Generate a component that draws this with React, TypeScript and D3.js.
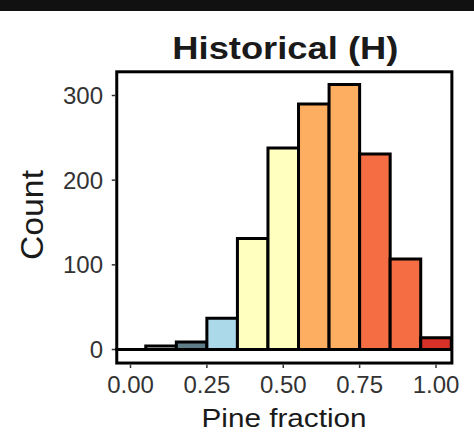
import * as d3 from "d3";

// histogram bins (centre of each 0.1-wide bin) and their counts
const binCenters = [0, 0.1, 0.2, 0.3, 0.4, 0.5, 0.6, 0.7, 0.8, 0.9, 1.0];
const binCounts = [0, 4, 9, 37, 131, 238, 290, 313, 231, 107, 14];
const binFills = [
  "#ffffff",
  "#ffffff",
  "#5f7d87",
  "#abd9e9",
  "#ffffbf",
  "#ffffbf",
  "#fdae61",
  "#fdae61",
  "#f46d43",
  "#f46d43",
  "#d73027",
];
const binWidth = 0.1;

const xTickValues = [0, 0.25, 0.5, 0.75, 1];
const yTickValues = [0, 100, 200, 300];
const xLimits = [-0.045, 1.052];
const yLimits = [-16, 328];

const titleText = "Historical (H)";
const xTitle = "Pine fraction";
const yTitle = "Count";

const App = () => {
  const width = 474,
    height = 434;
  const font = "'Liberation Sans', Arial, Helvetica, sans-serif";

  const x = d3.scaleLinear([0, 1], [130.5, 436]);
  const y = d3.scaleLinear([0, 300], [349.5, 95.5]);

  const left = x(xLimits[0]),
    right = x(xLimits[1]),
    top = y(yLimits[1]),
    bottom = y(yLimits[0]);

  // a path so that empty bins still show their outline on the baseline
  const barPath = (c: number, n: number) => {
    const p = d3.path();
    p.rect(
      x(c - binWidth / 2),
      y(n),
      x(c + binWidth / 2) - x(c - binWidth / 2),
      y(0) - y(n),
    );
    return p.toString();
  };

  return (
    <svg
      width={width}
      height={height}
      style={{ position: "absolute", left: 0, top: 0, background: "#fff" }}
      fontFamily={font}
    >
      <rect x={0} y={0} width={width} height={11} fill="#111" />

      <text
        x={(left + right) / 2 + 1}
        y={58.5}
        textAnchor="middle"
        fontSize={31}
        fontWeight="bold"
        fill="#1a1a1a"
        textLength={226}
        lengthAdjust="spacingAndGlyphs"
      >
        {titleText}
      </text>

      {/* bars */}
      <g stroke="#000" strokeWidth={3} strokeLinejoin="miter">
        {binCenters.map((c, i) => (
          <path key={i} d={barPath(c, binCounts[i])} fill={binFills[i]} />
        ))}
      </g>

      {/* panel border */}
      <rect
        x={left}
        y={top}
        width={right - left}
        height={bottom - top}
        fill="none"
        stroke="#000"
        strokeWidth={3}
      />

      {/* x axis */}
      <g fill="#333" fontSize={24}>
        {xTickValues.map((t) => (
          <g key={t}>
            <line
              x1={x(t)}
              x2={x(t)}
              y1={bottom + 1.5}
              y2={bottom + 5}
              stroke="#333"
              strokeWidth={1.5}
            />
            <text x={x(t)} y={393} textAnchor="middle">
              {d3.format(".2f")(t)}
            </text>
          </g>
        ))}
      </g>
      <text
        x={284}
        y={426.5}
        textAnchor="middle"
        fontSize={26}
        fill="#1a1a1a"
        textLength={165}
        lengthAdjust="spacingAndGlyphs"
      >
        {xTitle}
      </text>

      {/* y axis */}
      <g fill="#333" fontSize={24}>
        {yTickValues.map((t) => (
          <g key={t}>
            <line
              x1={left - 5}
              x2={left - 1.5}
              y1={y(t)}
              y2={y(t)}
              stroke="#333"
              strokeWidth={1.5}
            />
            <text x={103} y={y(t)} dy="0.35em" textAnchor="end">
              {t}
            </text>
          </g>
        ))}
      </g>
      <text
        transform={`translate(43, ${215}) rotate(-90)`}
        textAnchor="middle"
        fontSize={32}
        fill="#1a1a1a"
        textLength={90}
        lengthAdjust="spacingAndGlyphs"
      >
        {yTitle}
      </text>
    </svg>
  );
};

export default App;
